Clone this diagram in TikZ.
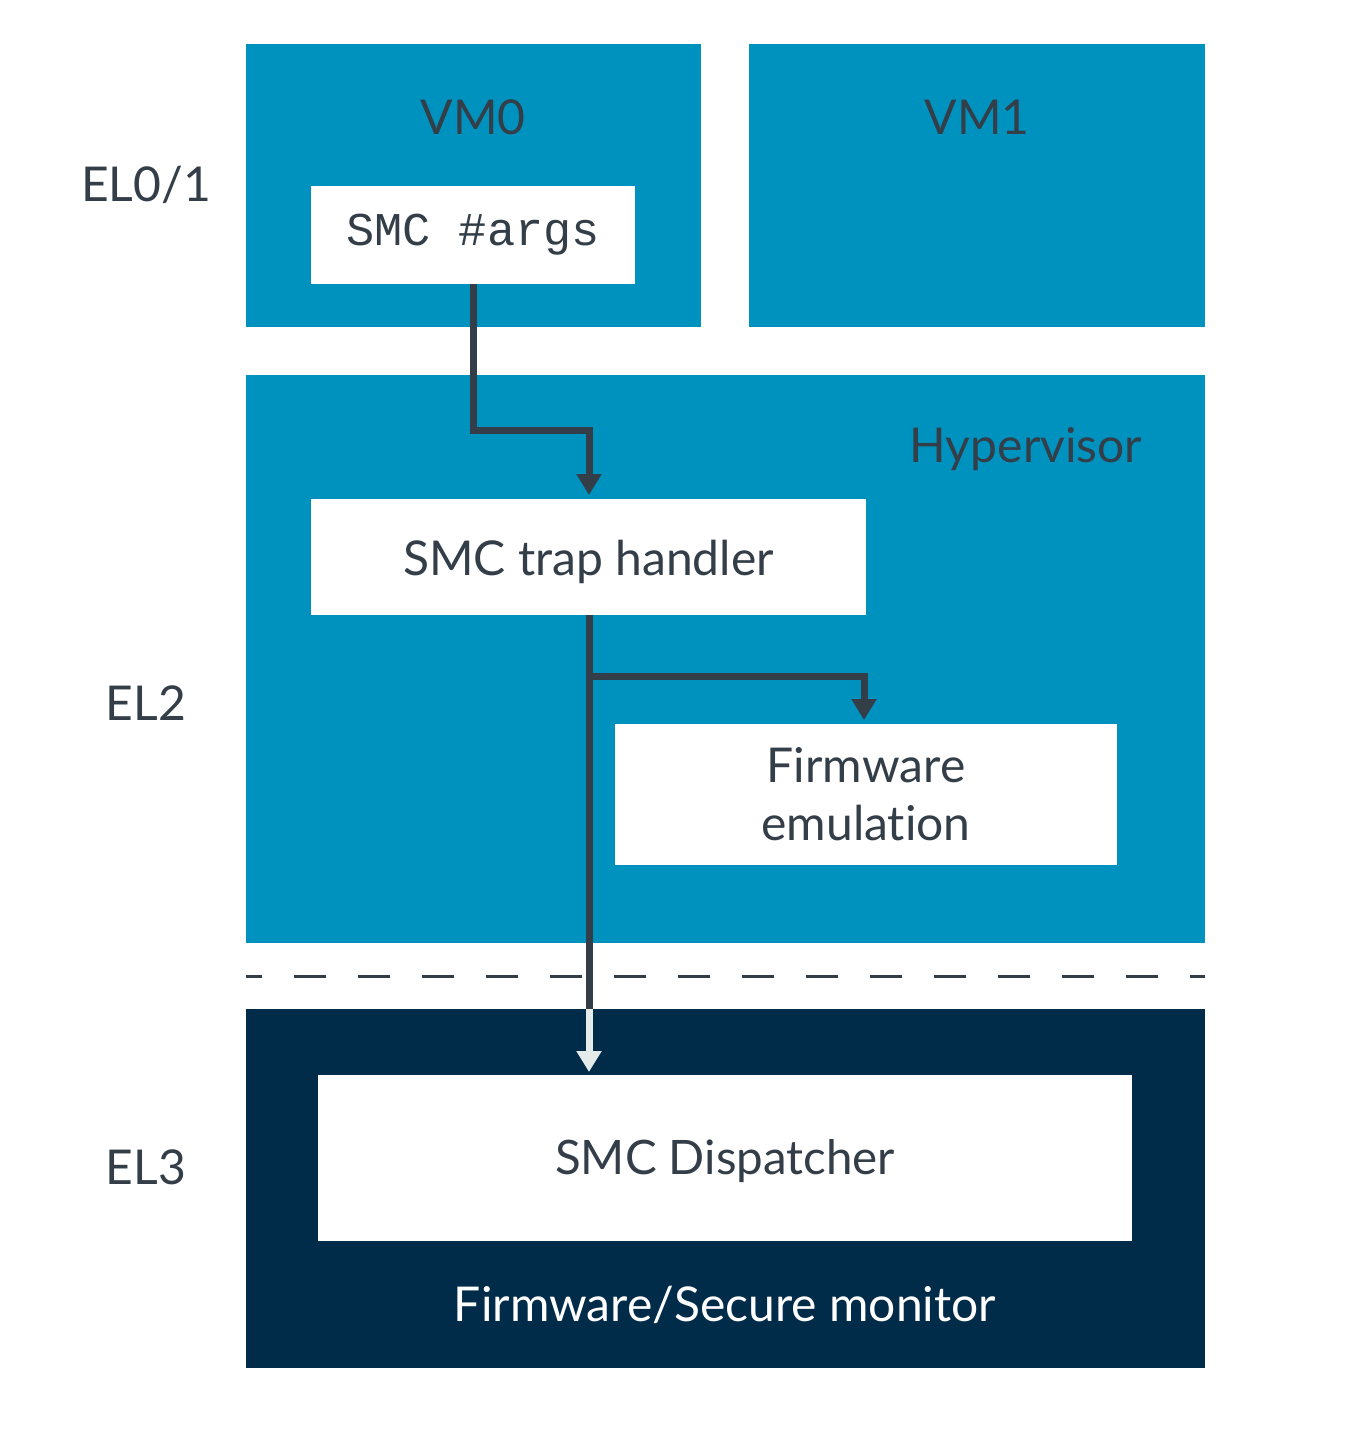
\documentclass[tikz,border=0pt]{standalone}
\usepackage{fontspec}
\setmainfont{Lato}[Ligatures={NoCommon}]
\setmonofont{Liberation Mono}
\usetikzlibrary{arrows.meta}
\definecolor{armblue}{HTML}{0092BE}
\definecolor{armnavy}{HTML}{002B49}
\definecolor{armgray}{HTML}{343E48}
\definecolor{armlight}{HTML}{E5EAEB}
\begin{document}
\begin{tikzpicture}[x=1pt,y=-1pt,
  blk/.style={rectangle,inner sep=0pt,fill=armblue,draw=none},
  wbox/.style={rectangle,inner sep=0pt,fill=white,draw=none,text=armgray,font=\fontsize{48}{58}\selectfont,align=center},
  lbl/.style={inner sep=0pt,text=armgray,font=\fontsize{48}{58}\selectfont},
  conn/.style={draw=armgray,line width=7pt},
  tip/.style={-{Triangle[width=24pt,length=21pt]}}
]
\useasboundingbox (0,0) rectangle (1368,1435);
% big boxes
\node[blk,minimum width=455pt,minimum height=283pt] (vm0) at (473.5,185.5) {};
\node[blk,minimum width=456pt,minimum height=283pt] (vm1) at (977,185.5) {};
\node[blk,minimum width=959pt,minimum height=568pt] (hyp) at (725.5,659) {};
\node[rectangle,inner sep=0pt,fill=armnavy,minimum width=959pt,minimum height=359pt] (el3) at (725.5,1188.5) {};
% dashed boundary
\coordinate (dL) at (246,976);
\coordinate (dR) at (1205,976);
\draw[armgray,line width=3pt,dash pattern=on 32pt off 32pt,dash phase=16pt] (dL) -- (dR);
% labels
\node[lbl] (tvm0) at (473,117) {VM0};
\node[lbl] (tvm1) at (977,117) {VM1};
\node[lbl] (thyp) at (1026,449) {Hypervisor};
\node[lbl] (tel01) at (146,185) {EL0/1};
\node[lbl] (tel2) at (146,703) {EL2};
\node[lbl] (tel3) at (146,1167) {EL3};
\node[lbl,text=white] (tfw) at (725,1305) {Firmware/Secure monitor};
% white boxes
\node[wbox,minimum width=324pt,minimum height=98pt,font=\ttfamily\fontsize{47}{56}\selectfont] (args) at (473,235) {SMC\ \#args};
\node[wbox,minimum width=555pt,minimum height=116pt,text height=40pt,text depth=4pt] (trap) at (588.5,557) {SMC trap handler};
\node[wbox,minimum width=502pt,minimum height=141pt,font=\fontsize{48}{58}\selectfont] (fwe) at (866,794.5) {Firmware\\emulation};
\node[wbox,minimum width=814pt,minimum height=166pt,font=\fontsize{47.5}{58}\selectfont,text height=37pt,text depth=4pt] (disp) at (725,1158) {SMC Dispatcher};
% connectors
\coordinate (b1) at (473,430);
\coordinate (b2) at (589,430);
\coordinate (t1) at (589,495);
\draw[conn,tip] (args.south) -- (b1) -- (b2) -- (t1);
\coordinate (s0) at (589,615);
\coordinate (j) at (589,676);
\coordinate (k) at (864,676);
\coordinate (t2) at (864,720);
\coordinate (e) at (589,1009);
\coordinate (t3) at (589,1072);
\draw[conn] (s0) -- (e);
\draw[conn,tip] (j) -- (k) -- (t2);
\draw[draw=armlight,line width=7pt,tip] (e) -- (t3);
\end{tikzpicture}
\end{document}
